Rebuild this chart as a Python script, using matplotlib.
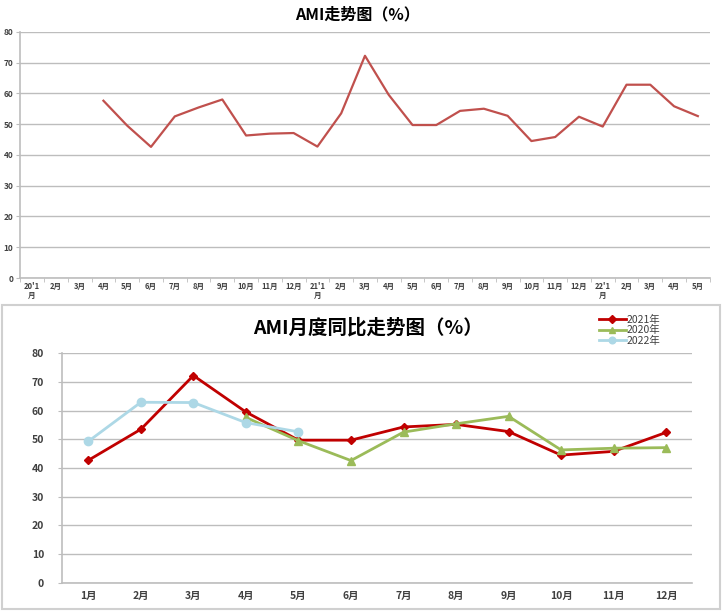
import matplotlib
matplotlib.use("Agg")
import matplotlib.pyplot as plt
from matplotlib.patches import Rectangle
import numpy as np

plt.rcParams['font.family'] = ['Noto Sans CJK SC', 'DejaVu Sans']

# top chart: monthly series 2020-01 .. 2022-05
trend_labels = (["20'1\n月"] + [f"{m}月" for m in range(2, 13)]
                + ["21'1\n月"] + [f"{m}月" for m in range(2, 13)]
                + ["22'1\n月"] + [f"{m}月" for m in range(2, 6)])
trend_values = [np.nan, np.nan, np.nan,
                57.6, 49.5, 42.6, 52.5, 55.4, 58.0, 46.3, 46.9, 47.1,
                42.7, 53.5, 72.2, 59.5, 49.7, 49.7, 54.3, 55.0, 52.7, 44.5, 45.8, 52.4,
                49.2, 62.8, 62.8, 55.8, 52.6]

# bottom chart: year-on-year by month
months = [f"{m}月" for m in range(1, 13)]
y2021 = [42.7, 53.5, 72.2, 59.5, 49.7, 49.7, 54.3, 55.2, 52.7, 44.5, 45.8, 52.4]
y2020 = [np.nan, np.nan, np.nan, 57.6, 49.5, 42.6, 52.5, 55.4, 58.0, 46.3, 46.9, 47.1]
y2022 = [49.3, 62.9, 62.8, 55.8, 52.6] + [np.nan] * 7

grid_c = '#BDBDBD'
txt_c = '#404040'

fig = plt.figure(figsize=(7.22, 6.11), dpi=100)

# frame around lower chart
fig.add_artist(Rectangle((0.003, 0.004), 0.994, 0.497, transform=fig.transFigure,
                         fill=False, edgecolor='#D0D0D0', lw=1.5))

# ---- top chart ----
ax1 = fig.add_axes([0.028, 0.545, 0.955, 0.403])
x1 = np.arange(len(trend_labels))
ax1.plot(x1, trend_values, color='#C0504D', lw=1.6)
ax1.set_xlim(-0.5, len(trend_labels) - 0.5)
ax1.set_ylim(0, 80)
ax1.set_yticks(range(0, 81, 10))
ax1.yaxis.grid(True, color=grid_c, lw=1)
ax1.set_axisbelow(True)
ax1.set_xticks(x1)
ax1.set_xticklabels(trend_labels, fontsize=5.5, fontweight='bold', color=txt_c,
                    linespacing=1.0)
ax1.set_xticks(np.arange(-0.5, len(trend_labels)), minor=True)
ax1.tick_params(axis='x', which='major', length=0, pad=3)
ax1.tick_params(axis='x', which='minor', length=3, color=grid_c)
ax1.tick_params(axis='y', length=3, color=grid_c, labelsize=6, labelcolor=txt_c, pad=2)
for lab in ax1.get_yticklabels():
    lab.set_fontweight('bold')
for s in ['top', 'right']:
    ax1.spines[s].set_visible(False)
for s in ['left', 'bottom']:
    ax1.spines[s].set_color(grid_c)
    ax1.spines[s].set_linewidth(1.2)
fig.text(0.495, 0.977, "AMI走势图（%）", ha='center', va='center',
         fontsize=11.5, fontweight='bold', color='black')

# ---- bottom chart ----
ax2 = fig.add_axes([0.086, 0.046, 0.873, 0.376])
x2 = np.arange(len(months))
ax2.plot(x2, y2021, color='#C00000', lw=2, marker='D', ms=4.5, label='2021年')
ax2.plot(x2, y2020, color='#9BBB59', lw=2, marker='^', ms=6, label='2020年')
ax2.plot(x2, y2022, color='#ADD8E6', lw=2, marker='o', ms=6, label='2022年')
ax2.set_xlim(-0.5, 11.5)
ax2.set_ylim(0, 80)
ax2.set_yticks(range(0, 81, 10))
ax2.yaxis.grid(True, color=grid_c, lw=1)
ax2.set_axisbelow(True)
ax2.set_xticks(x2)
ax2.set_xticklabels(months, fontsize=7.5, fontweight='bold', color=txt_c)
ax2.tick_params(axis='x', length=0, pad=6)
ax2.tick_params(axis='y', length=3, color=grid_c, labelsize=7.5, labelcolor=txt_c, pad=10)
for lab in ax2.get_yticklabels():
    lab.set_fontweight('bold')
ax2.spines['top'].set_visible(False)
ax2.spines['right'].set_visible(False)
for s in ['left', 'bottom']:
    ax2.spines[s].set_color(grid_c)
    ax2.spines[s].set_linewidth(1.2)
fig.text(0.51, 0.463, "AMI月度同比走势图（%）", ha='center', va='center',
         fontsize=14, fontweight='bold', color='black')
leg = ax2.legend(loc='upper left', bbox_to_anchor=(0.843, 1.19), frameon=False,
                 fontsize=7.5, handlelength=2.6, handletextpad=0.1, labelspacing=0.05,
                 borderpad=0, markerscale=0.8)
for t in leg.get_texts():
    t.set_color(txt_c)

fig.savefig('out.png', dpi=100)
